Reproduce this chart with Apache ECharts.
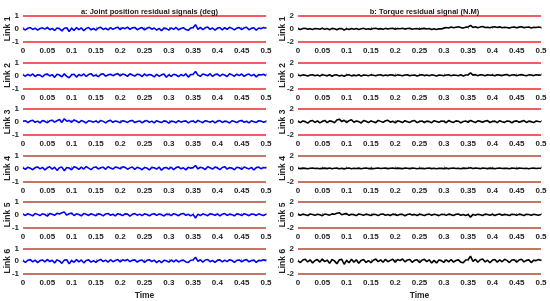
<!DOCTYPE html>
<html>
<head>
<meta charset="utf-8">
<script src="https://cdn.jsdelivr.net/npm/echarts@6/dist/echarts.min.js"></script>
<style>
html,body{margin:0;padding:0;background:#fff;}
#chart{width:550px;height:301px;}
</style>
</head>
<body>
<div id="chart"></div>
<script>
// sample step of the residual signals (s)
var dt = 0.005;
var linkNames = ['Link 1', 'Link 2', 'Link 3', 'Link 4', 'Link 5', 'Link 6'];
var jointLimit = 1;
var torqueLimit = 2;

// a: joint position residuals (deg)
var joint1 = [0.02,-0.08,0.05,0.10,-0.04,0.06,-0.10,0.03,0.08,-0.02,
0.12,-0.06,0.04,-0.12,0.07,0.02,-0.15,0.05,0.09,-0.20,
0.06,-0.12,0.10,-0.05,0.08,-0.14,0.04,0.11,-0.07,0.03,
-0.09,0.07,0.12,-0.04,0.05,-0.08,0.10,-0.03,0.06,0.13,
-0.05,0.09,0.02,0.14,-0.03,0.08,0.11,-0.06,0.04,0.10,
-0.08,0.05,0.12,-0.02,0.07,-0.10,0.04,-0.13,0.06,0.02,
-0.09,0.08,-0.04,0.11,-0.07,0.03,0.09,-0.05,-0.11,0.06,
0.10,0.32,-0.03,0.12,-0.06,0.08,0.14,-0.04,0.07,-0.09,
0.05,0.11,-0.07,0.09,-0.03,0.12,0.04,-0.08,0.06,0.10,
-0.05,0.08,0.13,-0.06,0.04,0.09,-0.10,0.07,0.02,0.11,0.05];
var joint2 = [0.04,-0.06,0.08,-0.03,0.11,-0.09,0.05,0.02,-0.12,0.07,
0.10,-0.04,0.06,-0.15,0.09,0.03,-0.11,0.12,-0.07,-0.18,
0.05,0.09,-0.13,0.07,-0.04,0.11,-0.08,0.06,0.13,-0.05,
0.03,-0.10,0.08,0.12,-0.06,0.04,0.09,-0.02,0.07,0.14,
-0.04,0.10,0.05,-0.07,0.12,0.03,-0.05,0.09,0.06,-0.09,
0.11,-0.03,0.07,0.02,-0.12,0.08,-0.06,0.04,0.10,-0.14,
0.05,-0.08,0.09,0.03,-0.10,0.07,-0.04,0.12,-0.13,0.06,
0.09,0.30,0.02,-0.07,0.11,0.05,-0.03,0.13,-0.08,0.06,
0.10,-0.05,0.08,0.03,-0.09,0.12,0.04,-0.06,0.09,-0.02,
0.11,-0.07,0.05,0.10,-0.04,0.08,-0.11,0.06,0.03,0.09,-0.03];
var joint3 = [0.03,0.09,-0.05,0.07,0.12,-0.03,0.06,-0.08,0.10,0.04,
-0.06,0.08,0.13,-0.02,0.09,0.18,-0.04,0.24,0.05,0.11,
-0.03,0.15,0.07,-0.06,0.10,0.03,-0.08,0.09,0.05,-0.02,
0.08,-0.05,0.11,0.04,-0.07,0.06,0.12,-0.03,0.07,0.02,
-0.06,0.09,0.04,-0.04,0.08,0.11,-0.05,0.03,0.07,-0.08,
0.05,0.10,-0.03,0.06,-0.07,0.09,0.02,-0.05,0.08,0.04,
-0.09,0.06,0.03,-0.06,0.10,-0.02,0.05,0.08,-0.07,0.04,
0.07,-0.05,0.11,0.02,-0.06,0.09,0.04,-0.03,0.08,-0.07,
0.05,0.10,-0.04,0.06,0.02,-0.08,0.09,0.03,-0.05,0.07,
0.11,-0.03,0.05,-0.07,0.08,0.02,-0.04,0.09,0.06,-0.02,0.04];
var joint4 = [0.05,-0.07,0.09,0.02,-0.10,0.06,0.11,-0.04,0.08,-0.12,
0.04,0.13,-0.06,0.09,-0.15,0.05,0.10,-0.18,0.07,0.03,
-0.11,0.12,0.06,-0.08,0.10,-0.05,0.14,0.02,-0.09,0.07,
0.11,-0.04,0.05,0.09,-0.07,0.13,0.03,-0.05,0.10,0.06,
-0.03,0.12,0.08,-0.06,0.04,0.11,-0.08,0.09,0.02,-0.10,
0.07,0.03,-0.12,0.08,0.05,-0.06,0.10,-0.14,0.04,0.07,
-0.05,0.09,-0.09,0.06,0.12,-0.03,0.05,-0.11,0.08,0.02,
0.06,0.22,-0.04,0.09,0.03,-0.08,0.12,0.05,-0.06,0.10,
0.04,-0.09,0.07,0.13,-0.05,0.06,0.02,-0.10,0.09,0.05,
-0.07,0.11,0.03,-0.04,0.08,-0.12,0.06,0.10,-0.03,0.07,0.04];
var joint5 = [0.06,-0.04,0.09,0.02,-0.07,0.11,0.04,-0.05,0.08,0.03,
-0.09,0.10,0.05,-0.03,0.12,0.07,0.16,0.22,-0.02,0.09,
0.14,-0.05,0.08,0.03,-0.07,0.10,0.05,-0.04,0.09,0.02,
-0.06,0.08,0.04,-0.08,0.07,0.11,-0.03,0.05,-0.07,0.09,
0.03,-0.05,0.08,0.06,-0.09,0.04,0.10,-0.02,0.06,-0.06,
0.08,0.03,-0.07,0.05,0.09,-0.04,0.07,0.02,-0.08,0.06,
0.04,-0.05,0.09,0.03,-0.06,0.07,0.11,-0.03,0.05,-0.07,
0.04,-0.24,0.06,-0.05,0.08,0.02,-0.06,0.09,0.04,-0.03,
0.07,-0.08,0.05,0.10,-0.04,0.06,0.02,-0.07,0.08,0.04,
-0.05,0.09,0.03,-0.06,0.07,0.05,-0.04,0.08,0.02,-0.05,0.06];
var joint6 = [0.03,-0.09,0.07,0.12,-0.05,0.08,-0.11,0.04,0.09,-0.06,
0.13,-0.03,0.07,-0.14,0.10,0.02,-0.17,0.08,0.11,-0.21,
0.05,-0.09,0.12,-0.06,0.09,-0.13,0.05,0.10,-0.08,0.04,
-0.10,0.06,0.13,-0.03,0.08,-0.07,0.11,-0.04,0.05,0.12,
-0.06,0.10,0.03,0.13,-0.04,0.07,0.10,-0.07,0.05,0.09,
-0.09,0.06,0.11,-0.03,0.08,-0.11,0.05,-0.12,0.07,0.03,
-0.08,0.09,-0.05,0.10,-0.06,0.04,0.08,-0.06,-0.10,0.07,
0.09,0.31,-0.02,0.11,-0.07,0.09,0.13,-0.05,0.06,-0.10,
0.06,0.10,-0.06,0.08,-0.04,0.11,0.05,-0.09,0.07,0.09,
-0.06,0.07,0.12,-0.05,0.05,0.08,-0.09,0.06,0.03,0.10,0.04];

// b: torque residuals (N.M)
var torque1 = [0.02,-0.08,0.06,0.10,-0.05,0.04,-0.10,0.07,0.03,-0.06,
0.09,-0.04,0.05,-0.12,0.08,0.01,-0.14,0.06,0.04,-0.16,
0.03,-0.09,0.07,-0.05,0.05,-0.10,0.02,0.08,-0.06,0.03,
-0.07,0.05,0.09,-0.03,0.04,-0.06,0.08,-0.02,0.05,0.10,
-0.04,0.07,0.02,0.09,-0.03,0.05,0.08,-0.05,0.03,0.07,
-0.06,0.04,0.08,-0.02,0.05,-0.08,0.03,-0.10,0.02,0.00,
0.12,0.22,0.15,0.28,0.18,0.25,0.32,0.20,0.14,0.27,
0.30,0.52,0.22,0.34,0.19,0.29,0.36,0.21,0.26,0.16,
0.28,0.33,0.20,0.31,0.17,0.26,0.22,0.12,0.25,0.30,
0.18,0.27,0.33,0.19,0.24,0.28,0.15,0.26,0.21,0.30,0.22];
var torque2 = [0.05,-0.06,0.08,0.02,-0.09,0.07,0.11,-0.04,0.06,-0.08,
0.10,0.03,-0.07,0.09,-0.12,0.05,0.08,-0.10,0.04,-0.13,
0.06,0.10,-0.07,0.04,-0.05,0.09,-0.11,0.06,0.02,-0.06,
0.08,0.03,-0.05,0.07,0.10,-0.04,0.05,-0.03,0.09,0.04,
-0.06,0.08,0.03,-0.04,0.07,0.11,-0.05,0.02,0.06,-0.08,
0.04,0.09,-0.03,0.05,-0.07,0.08,0.03,-0.09,0.06,0.02,
-0.05,0.07,0.10,-0.04,0.06,0.03,-0.06,0.09,-0.08,0.05,
0.08,0.38,0.04,0.12,-0.05,0.09,0.06,-0.04,0.10,0.03,
0.07,-0.06,0.11,0.04,-0.03,0.08,0.13,-0.05,0.06,0.09,
-0.04,0.07,0.12,0.02,-0.06,0.08,0.05,-0.03,0.10,0.04,0.06];
var torque3 = [0.10,-0.12,0.15,0.04,-0.18,0.12,0.20,-0.08,0.14,-0.15,
0.06,0.22,-0.10,0.16,0.08,-0.13,0.30,0.42,0.05,0.24,
-0.09,0.18,0.33,-0.06,0.14,0.04,-0.16,0.20,0.09,-0.11,
0.15,0.03,-0.12,0.22,0.08,-0.07,0.17,0.25,-0.05,0.11,
-0.14,0.16,0.06,-0.10,0.19,0.02,-0.08,0.13,0.21,-0.11,
0.07,0.15,-0.09,0.12,0.04,-0.13,0.18,0.06,-0.07,0.14,
0.09,-0.12,0.20,0.03,-0.08,0.16,0.11,-0.15,0.07,0.13,
-0.06,0.22,0.05,-0.10,0.17,0.08,-0.04,0.14,0.19,-0.09,
0.06,0.12,-0.11,0.18,0.03,-0.07,0.15,0.09,-0.13,0.10,
0.16,-0.05,0.08,0.21,-0.08,0.12,0.04,-0.10,0.14,0.07,0.02];
var torque4 = [0.02,-0.03,0.04,0.00,-0.05,0.03,0.05,-0.02,0.03,-0.04,
0.01,0.04,-0.03,0.05,-0.06,0.02,0.04,-0.05,0.03,-0.07,
0.02,0.05,-0.04,0.03,-0.02,0.04,-0.05,0.02,0.06,-0.03,
0.01,-0.04,0.03,0.05,-0.02,0.02,0.04,-0.03,0.03,0.06,
-0.02,0.04,0.01,-0.04,0.05,0.02,-0.03,0.04,0.02,-0.05,
0.03,0.00,-0.04,0.03,0.05,-0.03,0.02,-0.06,0.03,0.01,
-0.03,0.04,-0.04,0.02,0.05,-0.02,0.03,-0.05,0.04,0.01,
0.03,0.10,-0.02,0.04,0.02,-0.04,0.05,0.02,-0.03,0.04,
0.01,-0.04,0.03,0.05,-0.02,0.03,0.01,-0.05,0.04,0.02,
-0.03,0.04,0.02,-0.02,0.03,-0.05,0.02,0.04,-0.01,0.03,0.02];
var torque5 = [0.08,-0.05,0.12,0.03,-0.09,0.14,0.06,-0.07,0.10,0.02,
-0.12,0.13,0.07,-0.04,0.16,0.10,0.24,0.34,0.02,0.15,
0.20,-0.06,0.11,0.04,-0.10,0.13,0.07,-0.05,0.12,0.03,
-0.08,0.10,0.05,-0.11,0.09,0.14,-0.04,0.07,-0.09,0.12,
0.04,-0.07,0.11,0.08,-0.12,0.05,0.13,-0.03,0.08,-0.08,
0.10,0.04,-0.09,0.07,0.12,-0.05,0.09,0.02,-0.11,0.08,
0.05,-0.07,0.12,0.04,-0.08,0.09,0.14,-0.04,0.07,-0.10,
0.05,-0.34,0.08,-0.06,0.11,0.03,-0.08,0.12,0.05,-0.04,
0.09,-0.10,0.07,0.13,-0.05,0.08,0.03,-0.09,0.11,0.05,
-0.07,0.12,0.04,-0.08,0.09,0.06,-0.05,0.10,0.03,-0.06,0.08];
var torque6 = [0.05,-0.22,0.18,0.30,-0.12,0.20,-0.28,0.10,0.24,-0.15,
0.32,-0.08,0.17,-0.35,0.25,0.04,-0.40,0.20,0.28,-0.48,
0.12,-0.25,0.30,-0.15,0.22,-0.33,0.12,0.26,-0.20,0.10,
-0.25,0.15,0.32,-0.08,0.20,-0.18,0.28,-0.10,0.12,0.30,
-0.15,0.25,0.08,0.33,-0.10,0.18,0.26,-0.17,0.12,0.22,
-0.22,0.15,0.28,-0.08,0.20,-0.28,0.12,-0.30,0.18,0.08,
-0.20,0.22,-0.12,0.25,-0.15,0.10,0.20,-0.15,-0.25,0.18,
0.22,0.78,-0.05,0.28,-0.18,0.22,0.32,-0.12,0.15,-0.25,
0.15,0.25,-0.15,0.20,-0.10,0.28,0.12,-0.22,0.18,0.22,
-0.15,0.18,0.30,-0.12,0.12,0.20,-0.22,0.15,0.08,0.25,0.10];

var jointData = [joint1, joint2, joint3, joint4, joint5, joint6];
var torqueData = [torque1, torque2, torque3, torque4, torque5, torque6];

var font = '"Liberation Sans", Arial, sans-serif';
var grids = [], xAxes = [], yAxes = [], series = [];

function toPoints(arr){
    var pts = [];
    for(var i=0;i<arr.length;i++){
        pts.push([+(i*dt).toFixed(3), arr[i]]);
    }
    return pts;
}

function addPanel(col, row, values, limit, color){
    var idx = grids.length;
    var lineColor = row < 3 ? '#f2242c' : '#b04a34';
    grids.push({left: col==0 ? 23 : 298, width: 243, top: 15.8 + row*46.5, height: 26.2});
    xAxes.push({
        type: 'value', gridIndex: idx, min: 0, max: 0.5, interval: 0.05,
        axisLine: {show: false},
        axisTick: {show: true, inside: true, length: 2, lineStyle: {color: '#999'}},
        splitLine: {show: false},
        axisLabel: {fontSize: 8, fontWeight: 'bold', color: '#262626', fontFamily: font, margin: 5},
        name: row == 5 ? 'Time' : '', nameLocation: 'middle', nameGap: 17,
        nameTextStyle: {fontSize: 8.5, fontWeight: 'bold', color: '#262626', fontFamily: font}
    });
    yAxes.push({
        type: 'value', gridIndex: idx, min: -limit, max: limit, interval: limit,
        axisLine: {show: false},
        axisTick: {show: false},
        splitLine: {show: false},
        axisLabel: {fontSize: 8, fontWeight: 'bold', color: '#262626', fontFamily: font, margin: 4},
        name: linkNames[row], nameLocation: 'middle', nameGap: 11, nameMoveOverlap: false,
        nameTextStyle: {fontSize: 8.5, fontWeight: 'bold', color: '#262626', fontFamily: font}
    });
    series.push({
        type: 'line', xAxisIndex: idx, yAxisIndex: idx,
        data: toPoints(values), showSymbol: false, symbol: 'none',
        lineStyle: {color: color, width: 1.6},
        markLine: {
            silent: true, symbol: 'none', label: {show: false},
            lineStyle: {color: lineColor, width: 1.6, type: 'solid'},
            data: [{yAxis: limit}, {yAxis: -limit}]
        }
    });
}

for(var r=0;r<6;r++){
    addPanel(0, r, jointData[r], jointLimit, '#0000ff');
    addPanel(1, r, torqueData[r], torqueLimit, '#000000');
}

var chart = echarts.init(document.getElementById('chart'));
chart.setOption({
    animation: false,
    backgroundColor: '#fff',
    title: [
        {text: 'a: Joint position residual signals (deg)', left: 144.5, top: 3, textAlign: 'center',
         textStyle: {fontSize: 7.5, fontWeight: 'bold', color: '#1a1a1a', fontFamily: font}},
        {text: 'b: Torque residual signal (N.M)', left: 419.5, top: 3, textAlign: 'center',
         textStyle: {fontSize: 7.5, fontWeight: 'bold', color: '#1a1a1a', fontFamily: font}}
    ],
    grid: grids,
    xAxis: xAxes,
    yAxis: yAxes,
    series: series
});
</script>
</body>
</html>
